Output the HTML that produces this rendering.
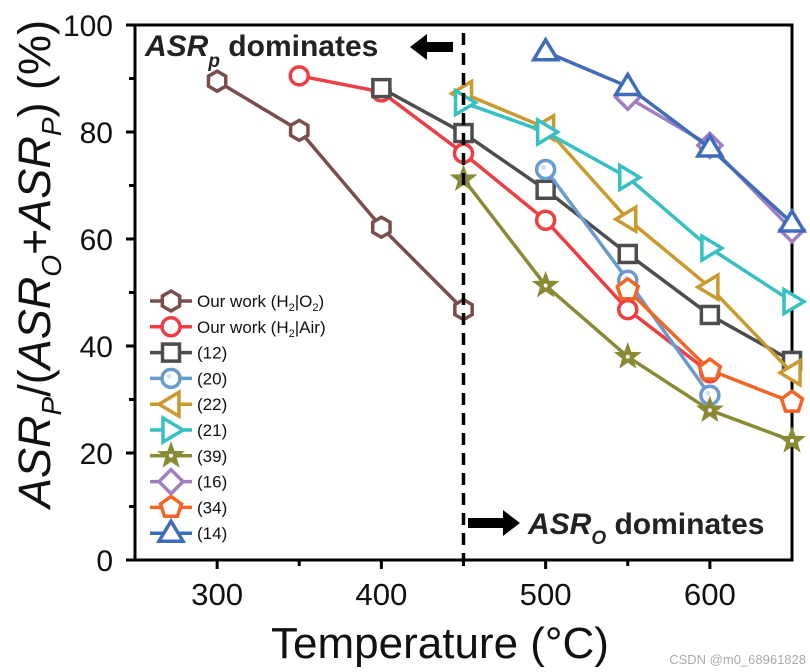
<!DOCTYPE html>
<html><head><meta charset="utf-8"><style>
html,body{margin:0;padding:0;background:#fff;}
svg{display:block;font-family:"Liberation Sans",Arial,sans-serif;}
</style></head><body>
<svg id="chart" width="810" height="672" viewBox="0 0 810 672"></svg>
<script>
const xTicks=[300,400,500,600];
const yTicks=[0,20,40,60,80,100];
const seriesNames=["Our work (H2|O2)","Our work (H2|Air)","(12)","(20)","(22)","(21)","(39)","(16)","(34)","(14)"];
const seriesX=[
 [300,350,400,450],
 [350,400,450,500,550,600],
 [400,450,500,550,600,650],
 [500,550,600],
 [450,500,550,600,650],
 [450,500,550,600,650],
 [450,500,550,600,650],
 [550,600,650],
 [550,600,650],
 [500,550,600,650]];
const seriesY=[
 [89.5,80.3,62.2,46.8],
 [90.5,87.5,76,63.5,46.8,35],
 [88.2,79.8,69.2,57.2,45.8,37.2],
 [73,52.3,30.8],
 [87.2,80.8,63.7,51,35],
 [85.5,80,71.5,58.3,48.3],
 [71.2,51.3,38,28,22.3],
 [86.5,77.5,61.7],
 [50.5,35.5,29.5],
 [95,88.5,77,63]];
const colors=["#7b4e4e","#ee3d43","#4d4d4d","#6a9bd0","#c99a2e","#35c0c4","#8a8a35","#a07ec2","#f26524","#3e6cba"];
const shapes=["hex","circle","square","circ2","left","right","star","diamond","pent","up"];

const NS="http://www.w3.org/2000/svg";
const svg=document.getElementById('chart');
const X0=135,X1=792,Y0=560,Y1=25,xmin=250,xmax=650,ymin=0,ymax=100;
const sx=v=>X0+(v-xmin)/(xmax-xmin)*(X1-X0);
const sy=v=>Y0-(v-ymin)/(ymax-ymin)*(Y0-Y1);
function el(t,a,p){const e=document.createElementNS(NS,t);for(const k in a)e.setAttribute(k,a[k]);(p||svg).appendChild(e);return e;}

const frame=el('rect',{x:X0,y:Y1,width:X1-X0,height:Y0-Y1,fill:'none',stroke:'#000','stroke-width':3});



xTicks.forEach(v=>{
 const t=el('line',{x1:sx(v),x2:sx(v),y1:Y0,y2:Y0+9,stroke:'#000','stroke-width':3});
 
 
 const l=el('text',{x:sx(v),y:Y0+45,'font-size':31,'text-anchor':'middle',fill:'#111',textLength:52,lengthAdjust:'spacingAndGlyphs'});l.textContent=v;
 
 
});
[350,450,550].forEach(v=>{el('line',{x1:sx(v),x2:sx(v),y1:Y0,y2:Y0+6,stroke:'#000','stroke-width':3});});
yTicks.forEach(v=>{
 const t=el('line',{x1:X0-9,x2:X0,y1:sy(v),y2:sy(v),stroke:'#000','stroke-width':3});
 
 
 const l=el('text',{x:X0-22,y:sy(v)+11,'font-size':30,'text-anchor':'end',fill:'#111'});l.textContent=v;
 
 
});
[10,30,50,70,90].forEach(v=>{el('line',{x1:X0-6,x2:X0,y1:sy(v),y2:sy(v),stroke:'#000','stroke-width':3});});

function marker(shape,x,y,c,g){
 const s=10,sw=3.5;const a={fill:'#fff',stroke:c,'stroke-width':sw};
 let e;
 const poly=(pts)=>{a.points=pts.map(p=>p.join(',')).join(' ');return el('polygon',a,g);};
 if(shape==='circle'||shape==='circ2'){a.cx=x;a.cy=y;a.r=9;e=el('circle',a,g);
   if(shape==='circ2'){el('circle',{cx:x-2,cy:y-2,r:2.5,fill:'#cfe0f3'},g);}}
 else if(shape==='square'){a.x=x-8.5;a.y=y-8.5;a.width=17;a.height=17;e=el('rect',a,g);}
 else if(shape==='hex'){const p=[];for(let i=0;i<6;i++){const t=Math.PI/6+i*Math.PI/3;p.push([x+s*Math.cos(t),y+s*Math.sin(t)]);}e=poly(p);}
 else if(shape==='pent'){const p=[];for(let i=0;i<5;i++){const t=-Math.PI/2+i*2*Math.PI/5;p.push([x+11*Math.cos(t),y+11*Math.sin(t)]);}e=poly(p);}
 else if(shape==='diamond'){e=poly([[x,y-12],[x+12,y],[x,y+12],[x-12,y]]);}
 else if(shape==='up'){e=poly([[x,y-12],[x+12,y+8],[x-12,y+8]]);}
 else if(shape==='left'){e=poly([[x-12,y],[x+8,y-12],[x+8,y+12]]);}
 else if(shape==='right'){e=poly([[x+12,y],[x-8,y-12],[x-8,y+12]]);}
 else if(shape==='star'){const p=[];for(let i=0;i<10;i++){const t=-Math.PI/2+i*Math.PI/5;const r=i%2?4.5:11;p.push([x+r*Math.cos(t),y+r*Math.sin(t)]);}a['stroke-width']=2.5;a.fill=c;e=poly(p);el('circle',{cx:x,cy:y,r:2,fill:'#fff'},g);}
 return e;
}

seriesNames.forEach((n,i)=>{
 const g=el('g',{});
 
 
 const pts=seriesX[i].map((v,j)=>sx(v)+','+sy(seriesY[i][j])).join(' ');
 const pl=el('polyline',{points:pts,fill:'none',stroke:colors[i],'stroke-width':3.5},g);
 
 
 seriesX[i].forEach((v,j)=>{
  const m=marker(shapes[i],sx(v),sy(seriesY[i][j]),colors[i],g);
  
  
 });
});

const dl=el('line',{x1:sx(450),x2:sx(450),y1:Y1+8,y2:Y0,stroke:'#000','stroke-width':3.5,'stroke-dasharray':'12,8'});



const lg=el('g',{});


const labels=['Our work (H<tspan font-size="11" dy="4">2</tspan><tspan dy="-4">|O</tspan><tspan font-size="11" dy="4">2</tspan><tspan dy="-4">)</tspan>',
 'Our work (H<tspan font-size="11" dy="4">2</tspan><tspan dy="-4">|Air)</tspan>',
 '(12)','(20)','(22)','(21)','(39)','(16)','(34)','(14)'];
seriesNames.forEach((n,i)=>{
 const y=301+i*25.8;
 const e=el('g',{},lg);
 
 
 el('line',{x1:150,x2:192,y1:y,y2:y,stroke:colors[i],'stroke-width':3.5},e);
 marker(shapes[i],171,y,colors[i],e);
 const t=el('text',{x:197,y:y+6,'font-size':17,fill:'#111'},e);
 t.innerHTML=labels[i];
});

const a1=el('text',{x:145,y:56,'font-size':30,'font-weight':'bold',fill:'#222'});
a1.innerHTML='<tspan font-style="italic">ASR</tspan><tspan font-style="italic" font-size="19" dy="11">p</tspan><tspan dy="-11"> dominates</tspan>';


const ar1=el('polygon',{points:'410,47 427,34 427,42 453,42 453,52 427,52 427,60',fill:'#000'});


const a2=el('text',{x:528,y:534,'font-size':30,'font-weight':'bold',fill:'#222'});
a2.innerHTML='<tspan font-style="italic">ASR</tspan><tspan font-style="italic" font-size="19" dy="10">O</tspan><tspan dy="-10"> dominates</tspan>';


const ar2=el('polygon',{points:'520,523 503,510 503,518 468,518 468,528 503,528 503,536',fill:'#000'});



const xt=el('text',{x:440,y:658,'font-size':44,'text-anchor':'middle',fill:'#111'});
xt.textContent='Temperature (°C)';


const yt=el('text',{transform:'translate(50,264) rotate(-90)','font-size':45,'text-anchor':'middle',fill:'#111'});
yt.innerHTML='<tspan font-style="italic">ASR</tspan><tspan font-style="italic" font-size="28" dy="11">P</tspan><tspan dy="-11">/(</tspan><tspan font-style="italic">ASR</tspan><tspan font-style="italic" font-size="28" dy="11">O</tspan><tspan dy="-11">+</tspan><tspan font-style="italic">ASR</tspan><tspan font-style="italic" font-size="28" dy="11">P</tspan><tspan dy="-11">) (%)</tspan>';


const wm=el('text',{x:806,y:664,'font-size':13,'text-anchor':'end',fill:'#aaa'});
wm.textContent='CSDN @m0_68961828';


</script>
</body></html>
